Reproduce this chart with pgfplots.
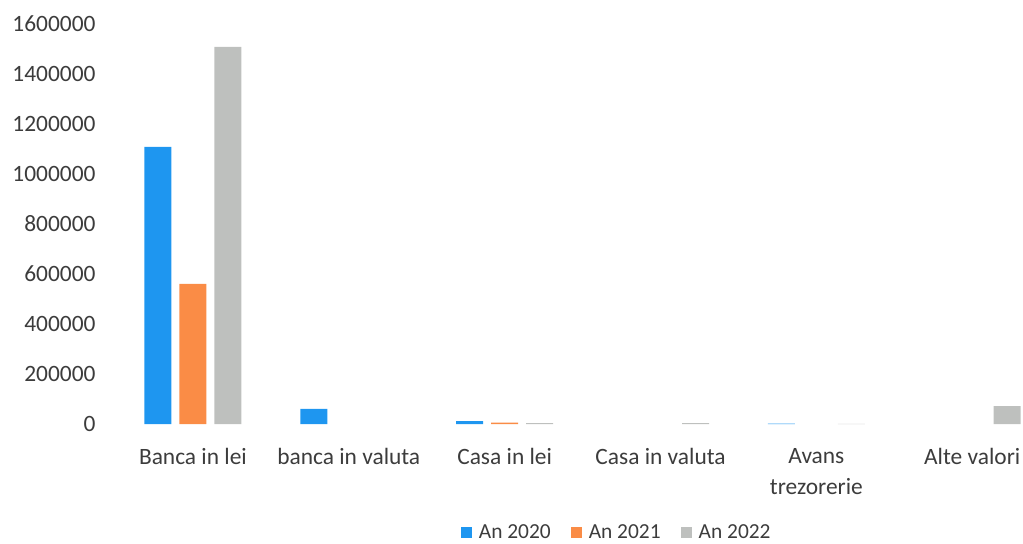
\documentclass[border=0pt]{standalone}
\usepackage{fontspec}
\setmainfont{Carlito}
\usepackage{pgfplots}
\pgfplotsset{compat=1.18}
\definecolor{c20}{RGB}{30,150,240}
\definecolor{c21}{RGB}{250,140,70}
\definecolor{c22}{RGB}{190,192,190}
\definecolor{txt}{RGB}{60,60,60}
\begin{document}
\begin{tikzpicture}
\begin{axis}[
  at={(0,0)}, anchor=south west,
  scale only axis, width=904bp, height=400bp,
  ybar=8bp, bar width=27bp,
  xmin=-0.5, xmax=5.3, ymin=0, ymax=1600000,
  xtick={0,1,2,3,4,5},
  xticklabels={Banca in lei, banca in valuta, Casa in lei, Casa in valuta, {Avans\\trezorerie}, Alte valori},
  ytick={0,200000,400000,600000,800000,1000000,1200000,1400000,1600000},
  scaled y ticks=false,
  yticklabel style={/pgf/number format/fixed, /pgf/number format/1000 sep={}, font=\fontsize{23.5}{27}\selectfont, text=txt, xshift=-16bp},
  /pgf/number format/assume math mode=true,
  xticklabel style={font=\fontsize{23.5}{31}\selectfont, text=txt, align=center, yshift=-21bp},
  axis line style={draw=none},
  major tick length=0pt,
  tick style={draw=none},
  clip=false,
  legend style={at={(0.555,-0.27)}, anchor=center, draw=none, fill=none,
    legend columns=-1, font=\fontsize{21.5}{24}\selectfont, text=txt,
    /tikz/every even column/.append style={column sep=18bp}},
  legend image code/.code={\fill[#1,draw=none] (0bp,-5.5bp) rectangle (11bp,5.5bp); \path (16bp,0bp);},
]
\addplot[fill=c20, draw=none] coordinates {(0,1108000) (1,61000) (2,12000) (4,2000)};
\addplot[fill=c21, draw=none] coordinates {(0,560000) (2,6000)};
\addplot[fill=c22, draw=none] coordinates {(0,1508000) (2,4000) (3,4000) (4,1000) (5,72000)};
\legend{An 2020, An 2021, An 2022}
\end{axis}
\pgfresetboundingbox
\path (-115bp,-120bp) rectangle (908bp,424bp);
\end{tikzpicture}
\end{document}
